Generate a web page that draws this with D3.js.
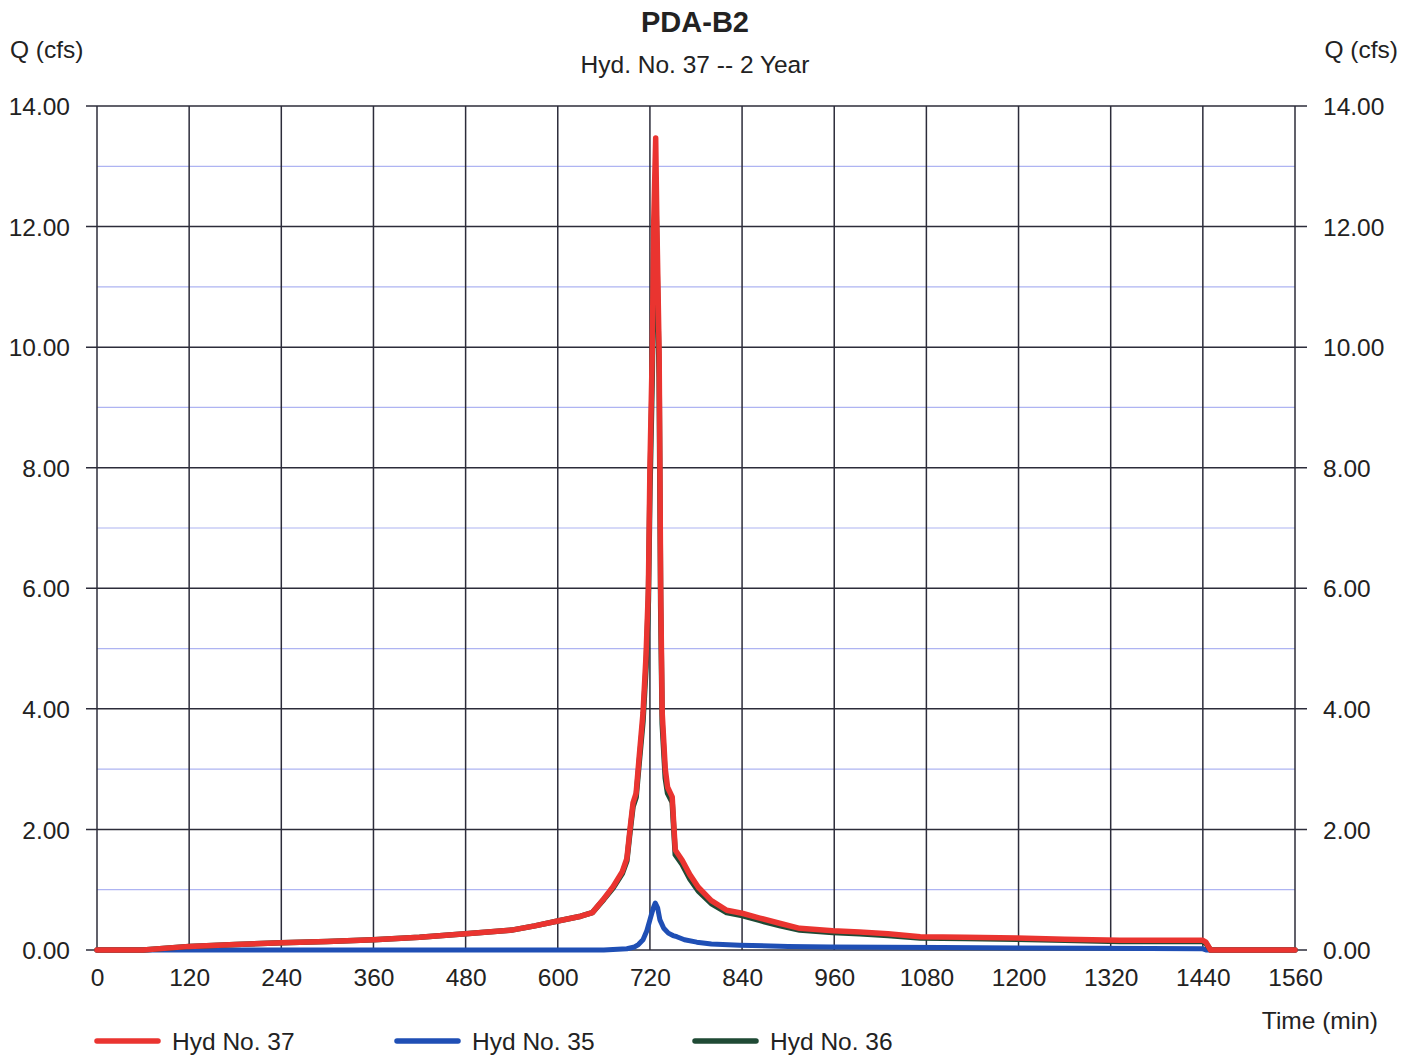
<!DOCTYPE html>
<html><head><meta charset="utf-8">
<script src="https://cdn.jsdelivr.net/npm/d3@7"></script>
<style>
body{margin:0;background:#fff;}
text{font-family:"Liberation Sans",Arial,sans-serif;fill:#222;}
</style></head>
<body><svg id="c" width="1415" height="1055"></svg>
<script>
const title = "PDA-B2";
const subtitle = "Hyd. No. 37 -- 2 Year";
const xTicks = [0,120,240,360,480,600,720,840,960,1080,1200,1320,1440,1560];
const yMajor = [0,2,4,6,8,10,12,14];
const yMinor = [1,3,5,7,9,11,13];

// Hyd No. 37 (time in min, Q in cfs)
const hyd37T = [0,60,120,180,240,300,360,420,480,540,570,600,630,645,660,672,684,690,694,698,702,706,711,715,718,720,723,725,727.5,729,732,733,734,736,740,743,749,753,762,772,783,800,820,840,863,890,915,958,993,1030,1072,1130,1198,1260,1332,1400,1440,1444,1450,1560];
const hyd37Q = [0,0.0,0.06,0.09,0.12,0.14,0.17,0.21,0.27,0.33,0.4,0.48,0.56,0.62,0.85,1.05,1.3,1.52,2.0,2.44,2.6,3.2,3.93,4.9,6.0,8.0,9.9,12.1,13.47,12.1,9.9,8.0,6.0,3.93,3.0,2.7,2.54,1.66,1.49,1.25,1.04,0.82,0.66,0.61,0.53,0.44,0.36,0.32,0.30,0.27,0.22,0.21,0.20,0.18,0.16,0.16,0.16,0.13,0.0,0.0];

// Hyd No. 35
const hyd35T = [0,600,660,690,700,705,711,716,720,724,727,730,733,738,744,750,755,765,781,800,837,900,955,1100,1300,1440,1445,1560];
const hyd35Q = [0,0,0,0.02,0.05,0.09,0.17,0.32,0.5,0.68,0.78,0.7,0.5,0.36,0.28,0.24,0.22,0.17,0.13,0.1,0.08,0.06,0.05,0.04,0.03,0.02,0.0,0.0];

// Hyd No. 36
const hyd36T = [0,60,120,180,240,300,360,420,480,540,570,600,630,645,660,672,684,690,694,698,702,706,711,715,718,720,723,725,727.5,729,732,733,734,736,740,743,749,753,762,772,783,800,820,840,863,890,915,958,993,1030,1072,1130,1198,1260,1332,1400,1440,1444,1450,1560];
const hyd36Q = [0,0.0,0.06,0.09,0.12,0.14,0.17,0.21,0.27,0.33,0.4,0.48,0.56,0.62,0.84,1.03,1.27,1.48,1.95,2.38,2.53,3.1,3.8,4.7,5.8,7.6,9.5,11.6,12.8,11.6,9.5,7.6,5.7,3.75,2.85,2.6,2.45,1.58,1.42,1.18,0.98,0.77,0.62,0.57,0.49,0.40,0.33,0.29,0.27,0.24,0.20,0.19,0.18,0.16,0.14,0.14,0.14,0.11,0.0,0.0];

const series = [
  {name:"Hyd No. 35", t:hyd35T, q:hyd35Q, color:"#1f4fb5", w:5},
  {name:"Hyd No. 36", t:hyd36T, q:hyd36Q, color:"#1f4a35", w:5.5},
  {name:"Hyd No. 37", t:hyd37T, q:hyd37Q, color:"#ea3430", w:5.5}
];
const legendOrder = ["Hyd No. 37","Hyd No. 35","Hyd No. 36"];

const svg = d3.select("#c");
const L=97, R=1295, T=106, B=950;
const x = d3.scaleLinear().domain([0,1560]).range([L,R]);
const y = d3.scaleLinear().domain([0,14]).range([B,T]);
const FS = 24.5;

// minor grid
svg.append("g").selectAll("line").data(yMinor).join("line")
  .attr("x1",L).attr("x2",R).attr("y1",d=>y(d)).attr("y2",d=>y(d))
  .attr("stroke","#aeb4f2").attr("stroke-width",1.2);
// major horizontal grid with outer ticks
svg.append("g").selectAll("line").data(yMajor).join("line")
  .attr("x1",L-11).attr("x2",R+12).attr("y1",d=>y(d)).attr("y2",d=>y(d))
  .attr("stroke","#2c2c3a").attr("stroke-width",1.5);
// vertical grid
svg.append("g").selectAll("line").data(xTicks).join("line")
  .attr("x1",d=>x(d)).attr("x2",d=>x(d)).attr("y1",T).attr("y2",B)
  .attr("stroke","#2c2c3a").attr("stroke-width",1.5);

// axes labels via d3 axes (no domain/ticks lines)
const yl = svg.append("g").attr("transform",`translate(${L-27},0)`)
  .call(d3.axisLeft(y).tickValues(yMajor).tickFormat(d3.format(".2f")).tickSize(0).tickPadding(0));
const yr = svg.append("g").attr("transform",`translate(${R+28},0)`)
  .call(d3.axisRight(y).tickValues(yMajor).tickFormat(d3.format(".2f")).tickSize(0).tickPadding(0));
const xa = svg.append("g").attr("transform",`translate(0,${B+19})`)
  .call(d3.axisBottom(x).tickValues(xTicks).tickFormat(d3.format("d")).tickSize(0).tickPadding(0));
[yl,yr,xa].forEach(g=>{g.select(".domain").remove();
  g.selectAll("text").attr("font-size",FS).attr("fill","#222")
   .style("font-family","'Liberation Sans',Arial,sans-serif");});
yl.selectAll("text").attr("dy","0.35em");
yr.selectAll("text").attr("dy","0.35em");

// lines
const line = d3.line().x(d=>x(d[0])).y(d=>y(d[1]));
series.forEach(s=>{
  svg.append("path").datum(s.t.map((t,i)=>[t,s.q[i]]))
    .attr("d",line).attr("fill","none").attr("stroke",s.color)
    .attr("stroke-width",s.w).attr("stroke-linejoin","round").attr("stroke-linecap","round");
});

// titles
svg.append("text").attr("x",695).attr("y",32).attr("text-anchor","middle")
  .attr("font-size",29).attr("font-weight","bold").text(title);
svg.append("text").attr("x",695).attr("y",73).attr("text-anchor","middle")
  .attr("font-size",FS).text(subtitle);
svg.append("text").attr("x",10).attr("y",58).attr("font-size",FS).text("Q (cfs)");
svg.append("text").attr("x",1398).attr("y",58).attr("text-anchor","end").attr("font-size",FS).text("Q (cfs)");
svg.append("text").attr("x",1378).attr("y",1029).attr("text-anchor","end").attr("font-size",FS).text("Time (min)");

// legend
const lx = [97,397,695];
legendOrder.forEach((n,i)=>{
  const s = series.find(v=>v.name===n);
  const g = svg.append("g").attr("transform",`translate(${lx[i]},1041)`);
  g.append("line").attr("x1",0).attr("x2",61).attr("y1",0).attr("y2",0)
    .attr("stroke",s.color).attr("stroke-width",5.5).attr("stroke-linecap","round");
  g.append("text").attr("x",75).attr("y",9).attr("font-size",FS).text(n);
});
</script></body></html>
